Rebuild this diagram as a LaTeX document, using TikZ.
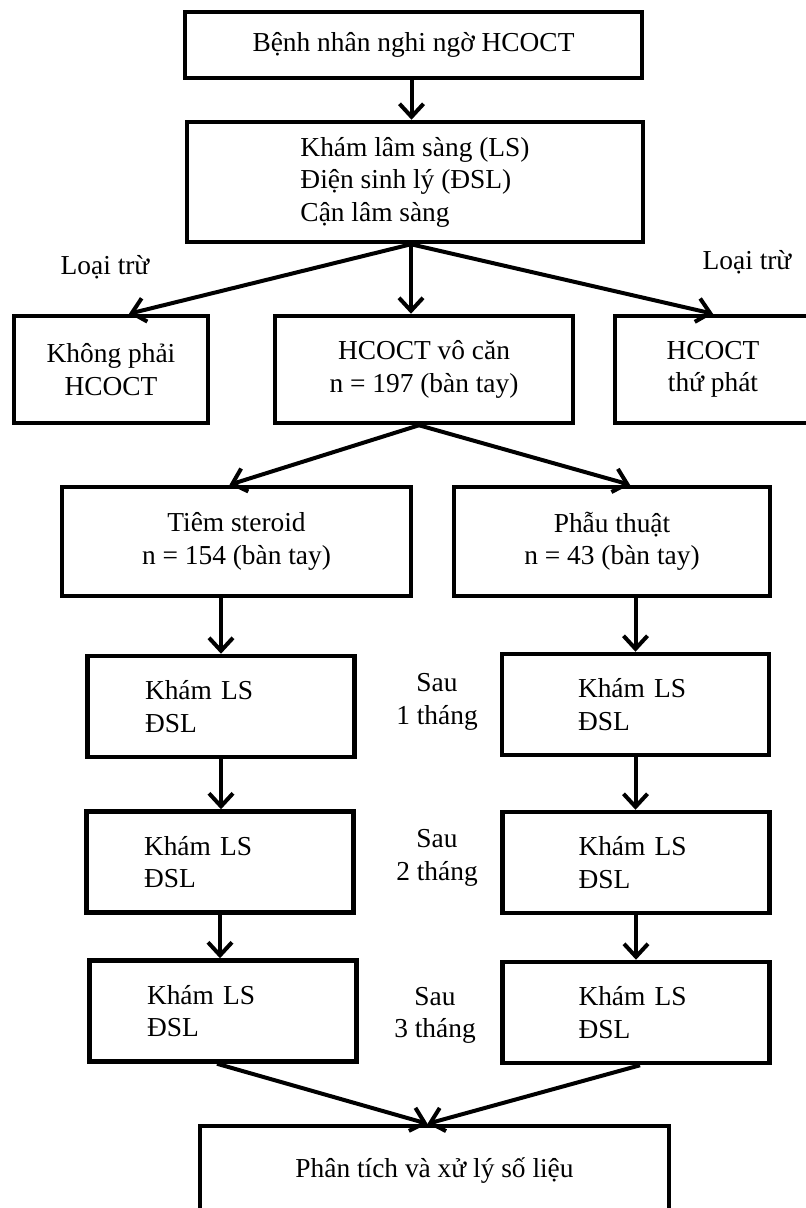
\documentclass[tikz,border=0pt]{standalone}
\usepackage{fontspec}
\setmainfont{Liberation Serif}
\usepackage{tikz}
\usetikzlibrary{arrows.meta}

\begin{document}
\begin{tikzpicture}[
  x=1pt, y=-1pt,
  every node/.style={font=\fontsize{27.4}{32.5}\selectfont},
  box/.style={draw, line width=4.5pt, align=center, inner sep=0pt},
  kham/.style={box, align=left, text width=#1, minimum width=267pt, minimum height=101pt},
  arr/.style={line width=4pt, -{Straight Barb[length=13pt, width=24pt]}}
]
  \useasboundingbox (0,0) rectangle (806,1208);
  \clip (0,0) rectangle (806,1208);

  % screening
  \node[box, minimum width=457pt, minimum height=66pt] (susp) at (413.5,45) {Bệnh nhân nghi ngờ HCOCT};
  \node[box, align=left, minimum width=456pt, minimum height=120pt] (exam) at (415,182)
    {Khám lâm sàng (LS)\\Điện sinh lý (ĐSL)\\Cận lâm sàng};

  \node[box, minimum width=194pt, minimum height=107pt] (notcts) at (111,369.5) {Không phải\\HCOCT};
  \node[box, minimum width=298pt, minimum height=107pt] (idio) at (424,369.5) {HCOCT vô căn\\n = 197 (bàn tay)};
  \node[box, minimum width=196pt, minimum height=107pt] (second) at (713,369.5) {HCOCT\\thứ phát};
  \node (excl1) at (105,267) {Loại trừ};
  \node (excl2) at (747,262) {Loại trừ};

  % treatment groups
  \node[box, minimum width=349pt, minimum height=109pt] (steroid) at (236.5,541.5) {Tiêm steroid\\n = 154 (bàn tay)};
  \node[box, minimum width=316pt, minimum height=109pt] (surgery) at (612,541.5) {Phẫu thuật\\n = 43 (bàn tay)};

  % follow-up
  \node[kham=152pt] (ks1) at (221,706.5) {Khám LS\\ĐSL};
  \node[kham=152pt] (ks2) at (220,862) {Khám LS\\ĐSL};
  \node[kham=152pt] (ks3) at (223,1011) {Khám LS\\ĐSL};
  \node[kham=115pt] (ps1) at (635.5,704.5) {Khám LS\\ĐSL};
  \node[kham=115pt] (ps2) at (636,862.5) {Khám LS\\ĐSL};
  \node[kham=115pt] (ps3) at (636,1012.5) {Khám LS\\ĐSL};
  \node[align=center] (after1) at (437,702) {Sau\\1 tháng};
  \node[align=center] (after2) at (437,858) {Sau\\2 tháng};
  \node[align=center] (after3) at (435,1015.5) {Sau\\3 tháng};

  \node[box, minimum width=469pt, minimum height=90pt] (result) at (434.5,1171) {Phân tích và xử lý số liệu};

  \draw[arr] ([xshift=-2pt]susp.south) -- ([xshift=-2pt]susp.south |- exam.north);
  \draw[arr] ([xshift=-4pt]exam.south) -- ([xshift=18pt]notcts.north);
  \draw[arr] ([xshift=-4pt]exam.south) -- ([xshift=-4pt]exam.south |- idio.north);
  \draw[arr] ([xshift=-4pt]exam.south) -- (second.north);
  \draw[arr] ([xshift=-5pt]idio.south) -- ([xshift=-7pt]steroid.north);
  \draw[arr] ([xshift=-5pt]idio.south) -- ([xshift=18pt]surgery.north);

  \draw[arr] (steroid.south -| ks1.north) -- (ks1.north);
  \draw[arr] (ks1.south) -- (ks1.south |- ks2.north);
  \draw[arr] (ks2.south) -- (ks2.south |- ks3.north);
  \draw[arr] (surgery.south -| ps1.north) -- (ps1.north);
  \draw[arr] (ps1.south) -- (ps1.south |- ps2.north);
  \draw[arr] (ps2.south) -- (ps2.south |- ps3.north);

  \draw[arr] ([xshift=-6pt]ks3.south) -- ([xshift=-7pt]result.north);
  \draw[arr] ([xshift=4pt]ps3.south) -- ([xshift=-7pt]result.north);
\end{tikzpicture}
\end{document}
